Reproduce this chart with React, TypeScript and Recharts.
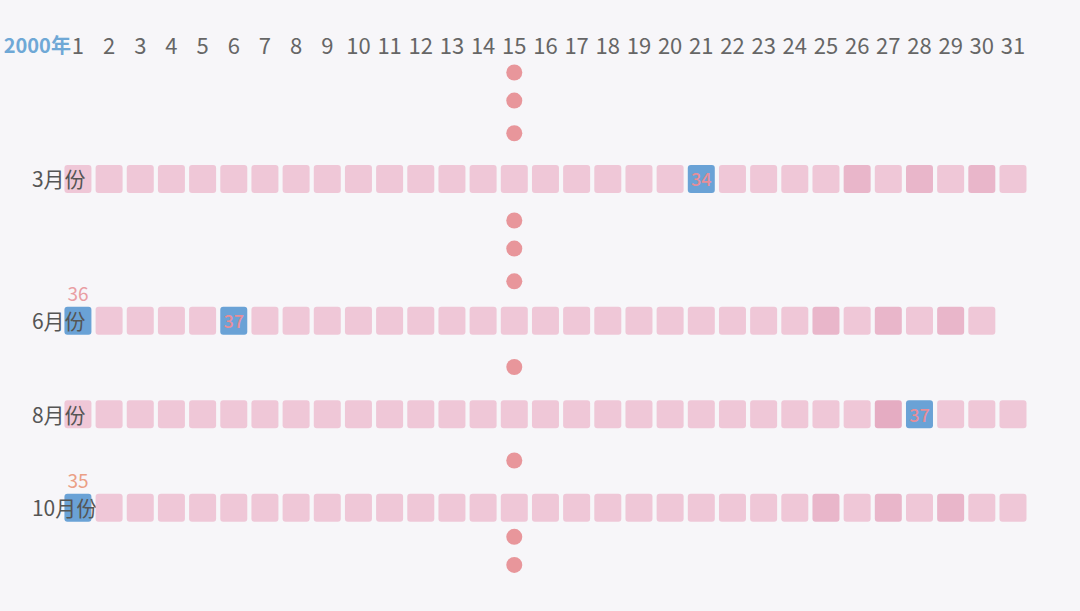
import { ScatterChart, Scatter, XAxis, YAxis } from "recharts"

// day numbers across the top
const dayTicks = [1, 2, 3, 4, 5, 6, 7, 8, 9, 10, 11, 12, 13, 14, 15, 16, 17, 18, 19, 20, 21, 22, 23, 24, 25, 26, 27, 28, 29, 30, 31]
const yearLabel = "2000年"

// rows shown (the rest of the months are folded into dots)
const months = ["3月份", "6月份", "8月份", "10月份"]
const monthLanes = [4.25, 8.8, 11.8, 14.8]

// daily values per month
const marValues = [31, 31, 31, 31, 31, 31, 31, 31, 31, 31, 31, 31, 31, 31, 31, 31, 31, 31, 31, 31, 34, 31, 31, 31, 31, 33, 31, 33, 31, 33, 31]
const junValues = [36, 31, 31, 31, 31, 37, 31, 31, 31, 31, 31, 31, 31, 31, 31, 31, 31, 31, 31, 31, 31, 31, 31, 31, 33, 31, 33, 31, 33, 31]
const augValues = [31, 31, 31, 31, 31, 31, 31, 31, 31, 31, 31, 31, 31, 31, 31, 31, 31, 31, 31, 31, 31, 31, 31, 31, 31, 31, 34, 37, 31, 31, 31]
const octValues = [35, 31, 31, 31, 31, 31, 31, 31, 31, 31, 31, 31, 31, 31, 31, 31, 31, 31, 31, 31, 31, 31, 31, 31, 33, 31, 33, 31, 33, 31, 31]

// selected cells (blue)
const highlights = [
  { month: "3月份", day: 21 },
  { month: "6月份", day: 1 },
  { month: "6月份", day: 6 },
  { month: "8月份", day: 28 },
  { month: "10月份", day: 1 },
]

// ellipsis dots between rows
const dotDay = 15
const dotLanes = [0.85, 1.75, 2.8, 5.6, 6.5, 7.55, 10.3, 13.3, 15.75, 16.65]

const allValues = [marValues, junValues, augValues, octValues]

const cells = months.flatMap((m, i) =>
  allValues[i].map((v, j) => ({
    month: m,
    day: j + 1,
    lane: monthLanes[i],
    value: v,
    selected: highlights.some((h) => h.month === m && h.day === j + 1),
  }))
)

const dots = dotLanes.map((l) => ({ day: dotDay, lane: l }))

const FONT = '"Noto Sans CJK SC", "Noto Sans", sans-serif'
const CELL = 27

function cellColor(v: number) {
  if (v >= 34) return "#e5acc2"
  if (v >= 33) return "#e9b6ca"
  return "#efc7d7"
}

const CellShape = (props: any) => {
  const { cx, cy, payload } = props
  const half = CELL / 2
  const fill = payload.selected ? "#6aa2d6" : cellColor(payload.value)
  const labelOnTop = payload.selected && payload.day === 1
  return (
    <g>
      <rect x={cx - half} y={cy - half} width={CELL} height={CELL + 1} rx={3} ry={3} fill={fill} />
      {payload.selected && !labelOnTop && (
        <text x={cx} y={cy} textAnchor="middle" dominantBaseline="central" fontSize={18} fontWeight={500} fill="#e88e99" fontFamily={FONT}>
          {payload.value}
        </text>
      )}
      {labelOnTop && (
        <text x={cx} y={cy - 28} textAnchor="middle" dominantBaseline="central" fontSize={19} fill={payload.value >= 36 ? "#e99ea3" : "#eb9f86"} fontFamily={FONT}>
          {payload.value}
        </text>
      )}
      {payload.day === 1 && (
        <text x={cx - 46} y={cy} textAnchor="start" dominantBaseline="central" fontSize={21} fill="#555" fontFamily={FONT}>
          {payload.month}
        </text>
      )}
    </g>
  )
}

const DotShape = (props: any) => {
  const { cx, cy } = props
  return <circle cx={cx} cy={cy} r={8} fill="#e8969b" />
}

const DayTick = (props: any) => {
  const { x, y, payload } = props
  return (
    <g>
      {payload.value === 1 && (
        <text x={x - 7} y={y} dy={7} textAnchor="end" fontSize={20} fontWeight={700} fill="#6fa8d6" fontFamily={FONT}>
          {yearLabel}
        </text>
      )}
      <text x={x} y={y} dy={8} textAnchor="middle" fontSize={22} fill="#666" fontFamily={FONT}>
        {payload.value}
      </text>
    </g>
  )
}

export default function App() {
  return (
    <div style={{ position: "absolute", left: 0, top: 0, width: 1080, height: 611, background: "#f7f6f9" }}>
      <ScatterChart width={1080} height={611} margin={{ top: 0, right: 0, bottom: 0, left: 0 }}>
        <XAxis
          type="number"
          dataKey="day"
          orientation="top"
          domain={[-1.5, 33.15]}
          ticks={dayTicks}
          interval={0}
          axisLine={false}
          tickLine={false}
          tickSize={0}
          tickMargin={0}
          height={46}
          tick={<DayTick />}
          allowDataOverflow
        />
        <YAxis type="number" dataKey="lane" domain={[0, 18.13]} reversed hide allowDataOverflow />
        <Scatter data={dots} shape={<DotShape />} isAnimationActive={false} />
        <Scatter data={cells} shape={<CellShape />} isAnimationActive={false} />
      </ScatterChart>
    </div>
  )
}
